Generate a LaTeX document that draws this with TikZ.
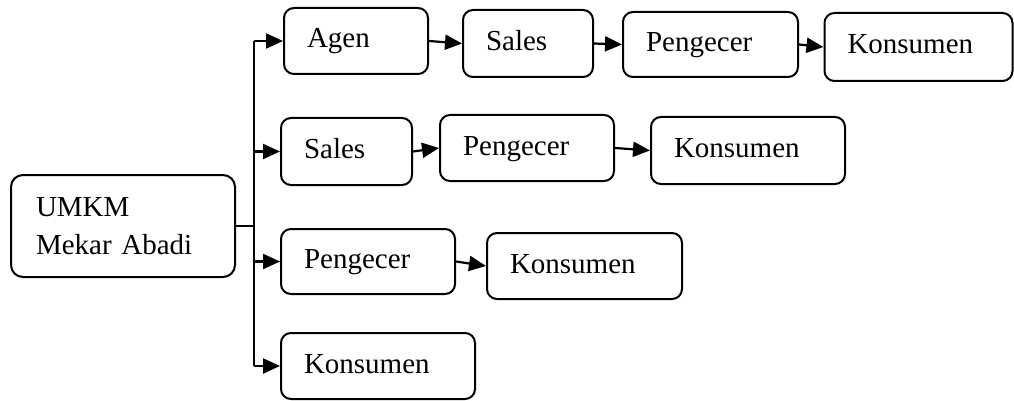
\documentclass[tikz,border=0pt]{standalone}
\usepackage{fontspec}
\setmainfont{Liberation Serif}
\usetikzlibrary{arrows.meta}
\begin{document}
\begin{tikzpicture}[x=1pt,y=-1pt,
  box/.style={draw,line width=2pt,rounded corners=10pt,inner xsep=23pt,inner ysep=0pt,
    align=left,font=\fontsize{29}{38}\selectfont,text height=20pt,text depth=6pt},
  conn/.style={line width=2.2pt},
  arr/.style={line width=2.2pt,-{Triangle[length=17pt,width=15pt]}}]
\useasboundingbox (0,0) rectangle (1014,401);
\newcommand{\bx}[7]{\node[box,minimum width=#4pt,minimum height=#5pt,text width=#6pt] (#1) at (#2,#3) {#7};}
% UMKM
\node[draw,line width=2pt,rounded corners=12pt,inner xsep=25pt,align=left,
  font=\fontsize{29}{38}\selectfont,minimum width=224pt,minimum height=102pt,text width=174pt]
  (umkm) at (123,226) {UMKM\\Mekar Abadi};
% row 1
\bx{a1}{356}{41}{144}{66}{98}{Agen}
\bx{s1}{528}{43.5}{130}{67}{84}{Sales}
\bx{p1}{710.5}{44.5}{175}{65}{129}{Pengecer}
\bx{k1}{918.5}{47}{188}{68}{142}{Konsumen}
% row 2
\bx{s2}{346.5}{151.5}{131}{67}{85}{Sales}
\bx{p2}{527}{148}{174}{66}{128}{Pengecer}
\bx{k2}{748}{150.5}{194}{67}{148}{Konsumen}
% row 3
\bx{p3}{368}{261.5}{174}{65}{128}{Pengecer}
\bx{k3}{584.5}{266}{195}{66}{149}{Konsumen}
% row 4
\bx{k4}{378}{366}{194}{66}{148}{Konsumen}
% trunk
\coordinate (tj) at (254,226);
\coordinate (t1) at (254,41);
\coordinate (t2) at (254,151.5);
\coordinate (t3) at (254,261.5);
\coordinate (t4) at (254,366);
\draw[conn] (umkm.east) -- (tj);
\draw[conn] (t1) -- (t4);
\draw[arr] (t1) -- (a1.west);
\draw[arr] (t2) -- (s2.west);
\draw[arr] (t3) -- (p3.west);
\draw[arr] (t4) -- (k4.west);
% chains
\draw[arr] (a1.east) -- (s1.west);
\draw[arr] (s1.east) -- (p1.west);
\draw[arr] (p1.east) -- (k1.west);
\draw[arr] (s2.east) -- (p2.west);
\draw[arr] (p2.east) -- (k2.west);
\draw[arr] (p3.east) -- (k3.west);
\end{tikzpicture}
\end{document}
